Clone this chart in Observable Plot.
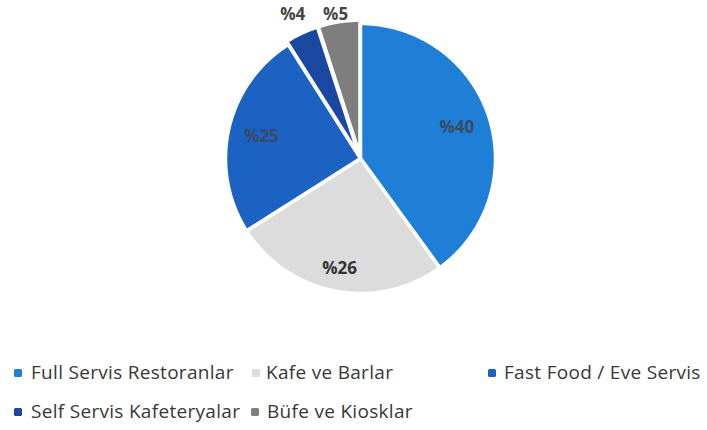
<!DOCTYPE html>
<html>
<head>
<meta charset="utf-8">
<script src="https://cdn.jsdelivr.net/npm/d3@7"></script>
<script src="https://cdn.jsdelivr.net/npm/@observablehq/plot@0.6"></script>
<style>
  html, body { margin: 0; padding: 0; background: #fff; }
  #wrap { position: relative; width: 707px; height: 430px; overflow: hidden; font-family: "Open Sans", sans-serif; }
  #chart { position: absolute; left: 0; top: -30px; }
  .lg { position: absolute; font-size: 19px; letter-spacing: 0.3px; color: #383838; white-space: nowrap; line-height: 24px; }
  .sw { position: absolute; width: 8px; height: 8px; border-radius: 1.5px; }
</style>
</head>
<body>
<div id="wrap"><div id="chart"></div></div>
<script>
const categories = ["Full Servis Restoranlar", "Kafe ve Barlar", "Fast Food / Eve Servis", "Self Servis Kafeteryalar", "Büfe ve Kiosklar"];
const values = [40, 26, 25, 4, 5];
const labels = ["%40", "%26", "%25", "%4", "%5"];
const colors = ["#1f7ed6", "#dcdcdc", "#1c62c2", "#1a479f", "#7e7e7e"];
const legendRows = [0, 0, 0, 1, 1];
const legendSwatchLeft = [14, 252, 488, 14, 251];
const legendTextLeft = [31, 266, 504, 31, 267];

const total = d3.sum(values);
let acc = 0;
const slices = values.map((v, i) => {
  const a0 = acc / total * 2 * Math.PI;
  acc += v;
  const a1 = acc / total * 2 * Math.PI;
  const mid = (a0 + a1) / 2;
  const off = v < 10 ? 0.025 : 0.0;
  const ox = off * Math.sin(mid), oy = off * Math.cos(mid);
  const n = Math.max(4, Math.ceil((a1 - a0) / 0.01));
  const ring = [[ox, oy]];
  for (let k = 0; k <= n; k++) {
    const a = a0 + (a1 - a0) * k / n;
    ring.push([ox + Math.sin(a), oy + Math.cos(a)]);
  }
  ring.push([ox, oy]);
  const outside = v < 10;
  const lr = outside ? 1.18 : (i === 1 ? 0.83 : 0.75);
  return {
    category: categories[i], value: v, label: labels[i], color: colors[i],
    feature: {type: "Feature", geometry: {type: "Polygon", coordinates: [ring]}},
    lx: lr * Math.sin(mid),
    ly: outside ? 1.07 : lr * Math.cos(mid),
    outside
  };
});

// pie centre (360, 188) in SVG coords (SVG shifted up 30px), radius 135px; domain ±1.25
const H = 370, R = 135, K = 1.25, CX = 360, CY = 188;
const plot = Plot.plot({
  width: 707,
  height: H,
  marginLeft: CX - R * K,
  marginRight: 707 - CX - R * K,
  marginTop: CY - R * K,
  marginBottom: H - CY - R * K,
  projection: {type: "reflect-y", domain: {type: "MultiPoint", coordinates: [[-K, -K], [K, K]]}},
  marks: [
    Plot.geo(slices, {geometry: d => d.feature, fill: d => d.color, stroke: "#fff", strokeWidth: 3.5, strokeLinejoin: "round"}),
    Plot.text(slices, {
      x: "lx", y: "ly", text: "label",
      fontSize: 17, fontWeight: "bold",
      fill: d => d.outside ? "#444" : (d.category === "Kafe ve Barlar" ? "#333" : "#3b4a66"),
      fontFamily: "Open Sans, sans-serif"
    })
  ],
  style: {background: "transparent", overflow: "visible"}
});
document.getElementById("chart").appendChild(plot);

const wrap = document.getElementById("wrap");
categories.forEach((c, i) => {
  const cy = legendRows[i] === 0 ? 373 : 412;
  const sw = document.createElement("div");
  sw.className = "sw";
  sw.style.left = legendSwatchLeft[i] + "px";
  sw.style.top = (cy - 4) + "px";
  sw.style.background = colors[i];
  wrap.appendChild(sw);
  const d = document.createElement("div");
  d.className = "lg";
  d.style.left = legendTextLeft[i] + "px";
  d.style.top = (cy - 13) + "px";
  d.textContent = c;
  wrap.appendChild(d);
});
</script>
</body>
</html>
